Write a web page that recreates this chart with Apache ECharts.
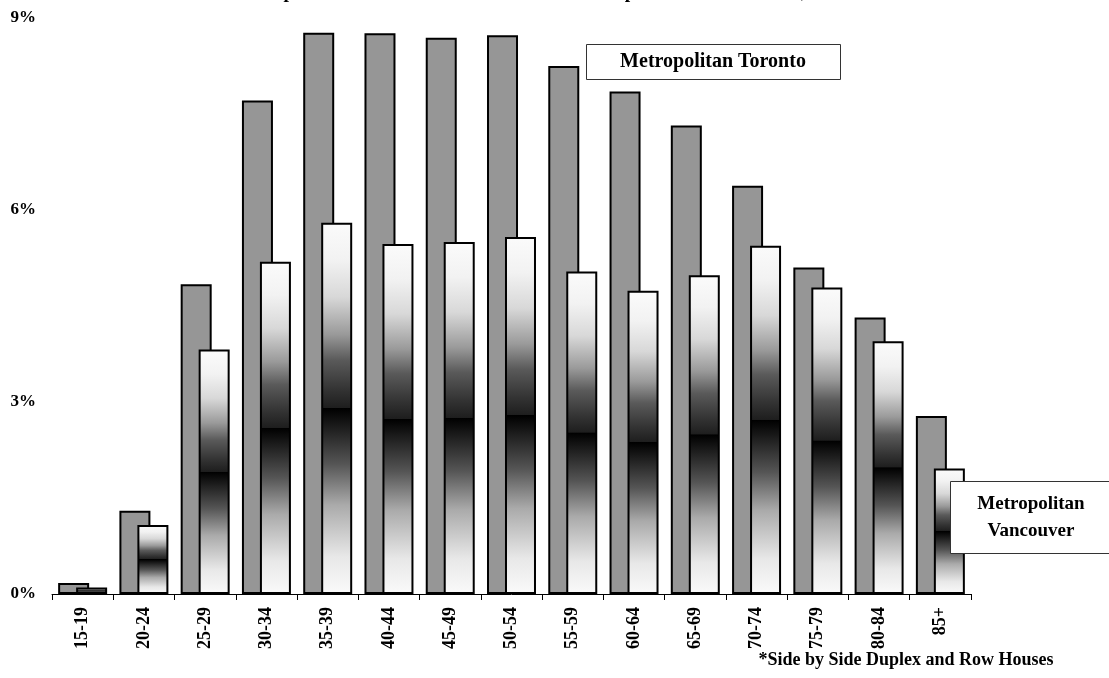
<!DOCTYPE html>
<html>
<head>
<meta charset="utf-8">
<script src="https://cdn.jsdelivr.net/npm/echarts@6/dist/echarts.min.js"></script>
<style>
  html, body { margin: 0; padding: 0; background: #ffffff; }
  #chart { width: 1109px; height: 678px; }
</style>
</head>
<body>
<div id="chart"></div>
<script>
// Age groups of household maintainers
const ageGroups = ['15-19', '20-24', '25-29', '30-34', '35-39', '40-44', '45-49', '50-54',
                   '55-59', '60-64', '65-69', '70-74', '75-79', '80-84', '85+'];

// Share of owners (%) in each age group
const torontoShare   = [0.17, 1.30, 4.84, 7.71, 8.77, 8.76, 8.69, 8.73, 8.25, 7.85, 7.32, 6.38, 5.10, 4.32, 2.78];
const vancouverShare = [0.10, 1.08, 3.82, 5.19, 5.80, 5.47, 5.50, 5.58, 5.04, 4.74, 4.98, 5.44, 4.79, 3.95, 1.96];

// Value-axis ticks
const yTicks = [0, 3, 6, 9];

const SERIF = '"Liberation Serif", "Times New Roman", serif';

// Vancouver bars: white at both ends, darkening to black at mid-height
const vancouverFill = new echarts.graphic.LinearGradient(0, 0, 0, 1, [
  { offset: 0.00, color: '#fbfbfb' },
  { offset: 0.10, color: '#f2f2f2' },
  { offset: 0.20, color: '#d8d8d8' },
  { offset: 0.30, color: '#9a9a9a' },
  { offset: 0.37, color: '#5a5a5a' },
  { offset: 0.45, color: '#333333' },
  { offset: 0.499, color: '#1e1e1e' },
  { offset: 0.50, color: '#000000' },
  { offset: 0.65, color: '#555555' },
  { offset: 0.76, color: '#aaaaaa' },
  { offset: 0.90, color: '#e8e8e8' },
  { offset: 1.00, color: '#fafafa' }
]);

const chart = echarts.init(document.getElementById('chart'), null, { renderer: 'canvas' });

chart.setOption({
  animation: false,
  backgroundColor: '#ffffff',
  grid: { left: 52, right: 138, top: 18, bottom: 84, containLabel: false },
  xAxis: {
    type: 'category',
    data: ageGroups,
    boundaryGap: true,
    axisLine: { show: true, lineStyle: { color: '#000000', width: 1 } },
    axisTick: { show: true, length: 6, alignWithLabel: false, lineStyle: { color: '#000000', width: 1 } },
    axisLabel: {
      rotate: 90,
      margin: 13,
      interval: 0,
      color: '#000000',
      fontFamily: SERIF,
      fontWeight: 'bold',
      fontSize: 18
    },
    splitLine: { show: false }
  },
  yAxis: {
    type: 'value',
    min: yTicks[0],
    max: yTicks[yTicks.length - 1],
    interval: 3,
    axisLine: { show: false },
    axisTick: { show: false },
    splitLine: { show: false },
    axisLabel: {
      formatter: '{value}%',
      margin: 16,
      color: '#000000',
      fontFamily: SERIF,
      fontWeight: 'bold',
      fontSize: 17
    }
  },
  series: [
    {
      name: 'Metropolitan Toronto',
      type: 'bar',
      data: torontoShare,
      barWidth: 31,
      barGap: '-42%',
      itemStyle: { color: '#969696', borderColor: '#000000', borderWidth: 2 }
    },
    {
      name: 'Metropolitan Vancouver',
      type: 'bar',
      data: vancouverShare,
      barWidth: 31,
      barGap: '-42%',
      itemStyle: { color: vancouverFill, borderColor: '#000000', borderWidth: 2 }
    }
  ],
  graphic: [
    // Title (runs off the top edge)
    {
      type: 'text',
      z: 100,
      x: 57,
      y: -17,
      style: {
        text: 'Attached Home* Ownership Rates in Toronto and Vancouver Metropolitan Census Areas, 2001',
        font: 'bold 19.5px ' + SERIF,
        fill: '#000000'
      }
    },
    // Series label: Toronto
    {
      type: 'group',
      z: 100,
      children: [
        {
          type: 'rect',
          z: 100,
          shape: { x: 586.5, y: 44.5, width: 254, height: 35 },
          style: { fill: '#ffffff', stroke: '#333333', lineWidth: 1 }
        },
        {
          type: 'text',
          z: 101,
          x: 713,
          y: 62,
          style: {
            text: 'Metropolitan Toronto',
            font: 'bold 20px ' + SERIF,
            fill: '#000000',
            align: 'center',
            verticalAlign: 'middle'
          }
        }
      ]
    },
    // Series label: Vancouver
    {
      type: 'group',
      z: 100,
      children: [
        {
          type: 'rect',
          z: 100,
          shape: { x: 950.5, y: 481.5, width: 170, height: 72 },
          style: { fill: '#ffffff', stroke: '#333333', lineWidth: 1 }
        },
        {
          type: 'text',
          z: 101,
          x: 1031,
          y: 518,
          style: {
            text: 'Metropolitan\nVancouver',
            font: 'bold 19px ' + SERIF,
            fill: '#000000',
            align: 'center',
            verticalAlign: 'middle',
            lineHeight: 27
          }
        }
      ]
    },
    // Footnote
    {
      type: 'text',
      z: 100,
      x: 906,
      y: 660,
      style: {
        text: '*Side by Side Duplex and Row Houses',
        font: 'bold 18px ' + SERIF,
        fill: '#000000',
        align: 'center',
        verticalAlign: 'middle'
      }
    }
  ]
});
</script>
</body>
</html>
